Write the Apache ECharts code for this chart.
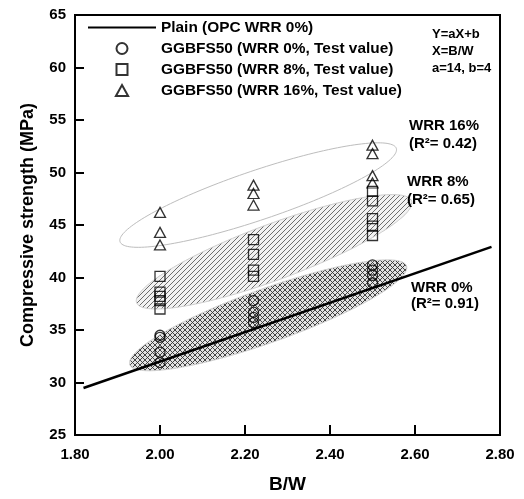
<!DOCTYPE html>
<html>
<head>
<meta charset="utf-8">
<script src="https://cdn.jsdelivr.net/npm/echarts@6/dist/echarts.min.js"></script>
<style>
  html, body { margin: 0; padding: 0; background: #fff; }
  #chart { width: 524px; height: 499px; }
</style>
</head>
<body>
<div id="chart"></div>
<script>
// Binder/water ratios tested
const bwLevels = [2.00, 2.22, 2.50];

// Compressive strength test values (MPa), one list per B/W level
const wrr0Values = [
  [34.5, 34.3, 32.9, 31.9],
  [37.8, 36.7, 36.2, 35.7],
  [41.2, 40.7, 40.2, 39.5]
];
const wrr8Values = [
  [40.1, 38.6, 38.2, 37.8, 37.0],
  [43.6, 42.2, 40.7, 40.1],
  [48.2, 47.3, 45.6, 44.9, 44.0]
];
const wrr16Values = [
  [46.2, 44.3, 43.1],
  [48.8, 48.0, 46.9],
  [52.6, 51.8, 49.7, 49.0]
];

// Plain OPC reference line end points (Y = 14X + 4)
const plainBW = [1.82, 2.78];
const plainStrength = [29.48, 42.92];

// Scatter envelopes: major-axis tips and vertical half-height through the centre
const envelopeNames = ['WRR 16%', 'WRR 8%', 'WRR 0%'];
const envelopeLeftX = [1.906, 1.945, 1.929];
const envelopeLeftY = [43.4, 37.6, 31.7];
const envelopeRightX = [2.556, 2.592, 2.580];
const envelopeRightY = [52.3, 47.3, 41.1];
const envelopeHalfHeight = [2.48, 2.82, 2.71];

// Axis ticks
const xTicks = { min: 1.8, max: 2.8, step: 0.2 };
const yTicks = { min: 25, max: 65, step: 5 };

const FONT = '"Liberation Sans", Arial, sans-serif';

function flatten(levels, groups) {
  const out = [];
  groups.forEach((vals, i) => vals.forEach(v => out.push([levels[i], v])));
  return out;
}

function makePattern(cross, bg, fg, size, lw) {
  const c = document.createElement('canvas');
  c.width = size; c.height = size;
  const g = c.getContext('2d');
  g.fillStyle = bg;
  g.fillRect(0, 0, size, size);
  g.strokeStyle = fg;
  g.lineWidth = lw;
  g.beginPath();
  for (let k = -1; k <= 1; k++) {
    g.moveTo(k * size, size); g.lineTo(k * size + size, 0);
    if (cross) { g.moveTo(k * size, 0); g.lineTo(k * size + size, size); }
  }
  g.stroke();
  return { image: c, repeat: 'repeat' };
}

const hatch = makePattern(false, '#f2f2f2', '#4a4a4a', 5, 0.8);
const crossHatch = makePattern(true, '#e2e2e2', '#333', 5, 0.9);

const envelopeStyles = [
  { fill: 'none', stroke: '#bdbdbd', lineWidth: 1 },
  { fill: hatch, stroke: '#cfcfcf', lineWidth: 1 },
  { fill: crossHatch, stroke: '#d0d0d0', lineWidth: 1 }
];

const envelopeData = envelopeNames.map((n, i) => [
  envelopeLeftX[i], envelopeLeftY[i], envelopeRightX[i], envelopeRightY[i], envelopeHalfHeight[i]
]);

function renderEnvelope(params, api) {
  const p1 = api.coord([api.value(0), api.value(1)]);
  const p2 = api.coord([api.value(2), api.value(3)]);
  const cx = (p1[0] + p2[0]) / 2, cy = (p1[1] + p2[1]) / 2;
  const dx = p2[0] - p1[0], dy = p2[1] - p1[1];
  const a = Math.hypot(dx, dy) / 2;
  const th = Math.atan2(dy, dx);
  const t = api.size([0, api.value(4)])[1];
  const s = Math.sin(th), c = Math.cos(th);
  const b = Math.abs(c) / Math.sqrt(1 / (t * t) - (s * s) / (a * a));
  const pts = [];
  const n = 160;
  for (let k = 0; k < n; k++) {
    const u = (k / n) * Math.PI * 2;
    const ex = a * Math.cos(u), ey = b * Math.sin(u);
    pts.push([cx + ex * c - ey * s, cy + ex * s + ey * c]);
  }
  return {
    type: 'polygon',
    shape: { points: pts },
    style: envelopeStyles[params.dataIndex]
  };
}

const markerStyle = { color: 'rgba(0,0,0,0)', borderColor: '#000', borderWidth: 1.3 };

const chart = echarts.init(document.getElementById('chart'), null, { renderer: 'canvas' });

chart.setOption({
  animation: false,
  backgroundColor: '#fff',
  textStyle: { fontFamily: FONT },
  grid: {
    left: 75, right: 24, top: 15, bottom: 58,
    show: true, borderColor: '#000', borderWidth: 2, backgroundColor: 'transparent'
  },
  legend: {
    orient: 'vertical',
    left: 82, top: 15,
    itemWidth: 68, itemHeight: 11, itemGap: 6,
    symbolKeepAspect: true,
    textStyle: { fontFamily: FONT, fontSize: 15.4, fontWeight: 'bold', color: '#000' },
    data: [
      { name: 'Plain (OPC WRR 0%)' },
      { name: 'GGBFS50 (WRR 0%, Test value)', icon: 'circle' },
      { name: 'GGBFS50 (WRR 8%, Test value)', icon: 'path://M0,0 L10,0 L10,10 L0,10 Z' },
      { name: 'GGBFS50 (WRR 16%, Test value)', icon: 'path://M5,0 L10,9 L0,9 Z' }
    ]
  },
  xAxis: {
    type: 'value',
    min: xTicks.min, max: xTicks.max, interval: xTicks.step,
    name: 'B/W', nameLocation: 'middle', nameGap: 40,
    nameTextStyle: { fontFamily: FONT, fontSize: 19, fontWeight: 'bold', color: '#000' },
    axisLine: { show: true, lineStyle: { color: '#000', width: 2 } },
    axisTick: { show: true, inside: true, length: 10, lineStyle: { color: '#000', width: 2 } },
    axisLabel: {
      margin: 12, color: '#000', fontFamily: FONT, fontSize: 15, fontWeight: 'bold',
      formatter: v => v.toFixed(2)
    },
    splitLine: { show: false }
  },
  yAxis: {
    type: 'value',
    min: yTicks.min, max: yTicks.max, interval: yTicks.step,
    name: 'Compressive strength (MPa)', nameLocation: 'middle', nameGap: 38,
    nameTextStyle: { fontFamily: FONT, fontSize: 18, fontWeight: 'bold', color: '#000' },
    axisLine: { show: true, lineStyle: { color: '#000', width: 2 } },
    axisTick: { show: true, inside: true, length: 9, lineStyle: { color: '#000', width: 2 } },
    axisLabel: { margin: 9, color: '#000', fontFamily: FONT, fontSize: 15, fontWeight: 'bold' },
    splitLine: { show: false }
  },
  graphic: [
    {
      type: 'text', left: 432, top: 26, z: 100,
      style: {
        text: 'Y=aX+b\nX=B/W\na=14, b=4',
        font: 'bold 13px ' + FONT, fill: '#000', lineHeight: 17
      }
    },
    {
      type: 'text', left: 409, top: 117, z: 100,
      style: { text: 'WRR 16%\n(R²= 0.42)', font: 'bold 15px ' + FONT, fill: '#000', lineHeight: 18 }
    },
    {
      type: 'text', left: 407, top: 173, z: 100,
      style: { text: 'WRR 8%\n(R²= 0.65)', font: 'bold 15px ' + FONT, fill: '#000', lineHeight: 18 }
    },
    {
      type: 'text', left: 411, top: 280, z: 100,
      style: { text: 'WRR 0%\n(R²= 0.91)', font: 'bold 15px ' + FONT, fill: '#000', lineHeight: 16 }
    }
  ],
  series: [
    {
      type: 'custom',
      name: 'envelopes',
      renderItem: renderEnvelope,
      encode: { x: [0, 2], y: [1, 3] },
      data: envelopeData,
      z: 1,
      silent: true
    },
    {
      type: 'line',
      name: 'Plain (OPC WRR 0%)',
      data: plainBW.map((x, i) => [x, plainStrength[i]]),
      symbol: 'none',
      lineStyle: { color: '#000', width: 2.5 },
      itemStyle: { color: 'rgba(0,0,0,0)', borderColor: 'rgba(0,0,0,0)' },
      z: 3
    },
    {
      type: 'scatter',
      name: 'GGBFS50 (WRR 0%, Test value)',
      data: flatten(bwLevels, wrr0Values),
      symbol: 'circle', symbolSize: 10,
      itemStyle: markerStyle, z: 4
    },
    {
      type: 'scatter',
      name: 'GGBFS50 (WRR 8%, Test value)',
      data: flatten(bwLevels, wrr8Values),
      symbol: 'rect', symbolSize: 10,
      itemStyle: markerStyle, z: 4
    },
    {
      type: 'scatter',
      name: 'GGBFS50 (WRR 16%, Test value)',
      data: flatten(bwLevels, wrr16Values),
      symbol: 'triangle', symbolSize: [11, 10],
      itemStyle: markerStyle, z: 4
    }
  ]
});
</script>
</body>
</html>
